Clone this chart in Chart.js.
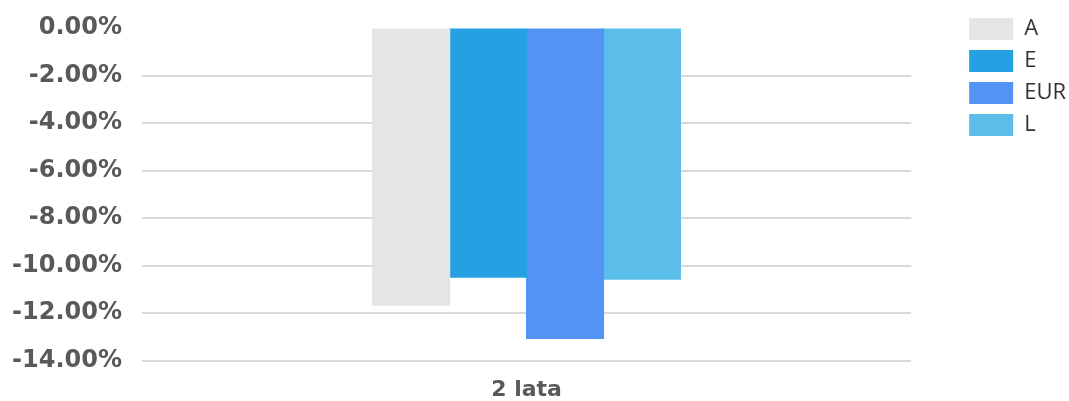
<!DOCTYPE html>
<html>
<head>
<meta charset="utf-8">
<script src="https://cdn.jsdelivr.net/npm/chart.js@4"></script>
<style>
  html, body { margin: 0; padding: 0; background: #fff; }
  #wrap { width: 1069px; height: 401px; }
</style>
</head>
<body>
<div id="wrap"><canvas id="returnsChart"></canvas></div>
<script>
  // data
  const categories = ['2 lata'];
  const seriesNames = ['A', 'E', 'EUR', 'L'];
  const seriesValues = [[-11.67], [-10.49], [-13.07], [-10.57]];
  const seriesColors = ['#e5e5e5', '#25a0e2', '#5394f5', '#5bbfea'];
  const yTickValues = [0, -2, -4, -6, -8, -10, -12, -14];

  let datasets = [];
  for (let i = 0; i < seriesNames.length; i++) {
    datasets.push({
      label: seriesNames[i],
      data: seriesValues[i],
      backgroundColor: seriesColors[i],
      borderWidth: 0,
      inflateAmount: 0.6,
      categoryPercentage: 0.4,
      barPercentage: 1.0
    });
  }

  // small lineHeight only trims the space chart.js reserves above the top tick
  const tickFont = { family: 'DejaVu Sans', size: 24, weight: 'bold', lineHeight: 0.67 };

  const ctx = document.getElementById('returnsChart').getContext('2d');
  const chart = new Chart(ctx, {
    type: 'bar',
    data: {
      labels: categories,
      datasets: datasets
    },
    options: {
      responsive: true,
      maintainAspectRatio: false,
      animation: false,
      layout: { padding: { top: 8, left: 0, right: -7, bottom: -18 } },
      plugins: {
        tooltip: { enabled: false },
        legend: {
          position: 'right',
          align: 'start',
          labels: {
            boxWidth: 44,
            boxHeight: 22,
            padding: 10,
            color: '#333333',
            font: { family: 'Open Sans', size: 22 }
          }
        }
      },
      scales: {
        x: {
          grid: { display: false, drawTicks: false },
          border: { display: false },
          ticks: {
            color: '#595959',
            font: { family: 'DejaVu Sans', size: 22, weight: 'bold' },
            padding: 16
          }
        },
        y: {
          min: -14,
          max: 0,
          afterBuildTicks: function (scale) {
            scale.ticks = yTickValues.map(v => ({ value: v }));
          },
          afterFit: function (scale) {
            scale.width = 142;
          },
          grid: {
            drawTicks: false,
            lineWidth: 2,
            color: function (c) {
              return (c.tick && c.tick.value === 0) ? 'rgba(0,0,0,0)' : '#d9d9d9';
            }
          },
          border: { display: false },
          ticks: {
            color: '#595959',
            font: tickFont,
            padding: 20,
            callback: function (value) {
              return Number(value).toFixed(2) + '%';
            }
          }
        },
        gap: {
          type: 'linear',
          position: 'right',
          display: true,
          grid: { display: false },
          border: { display: false },
          ticks: { display: false },
          afterFit: function (scale) {
            scale.width = 48;
          }
        }
      }
    }
  });
</script>
</body>
</html>
